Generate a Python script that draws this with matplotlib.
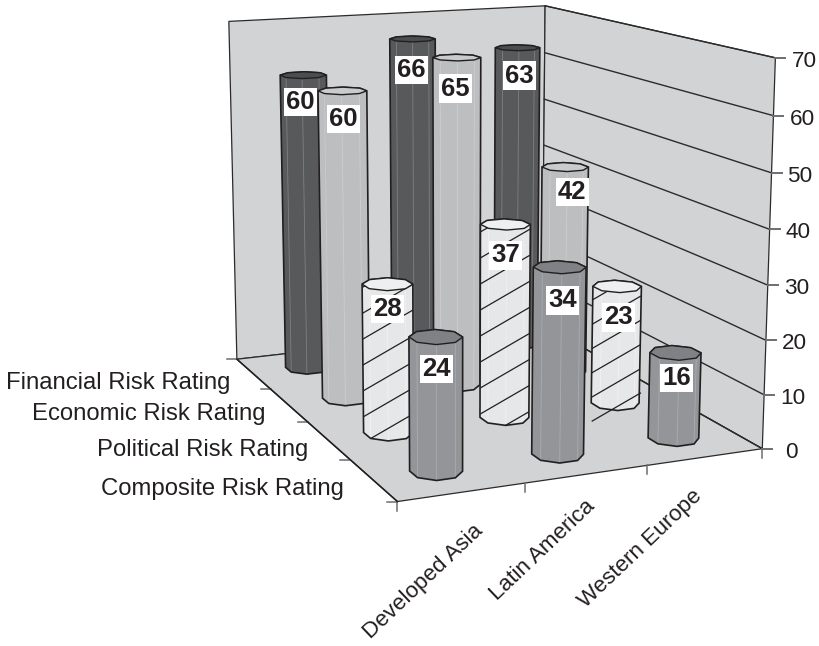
import numpy as np
import matplotlib
matplotlib.use("Agg")
import matplotlib.pyplot as plt
from matplotlib.patches import Polygon

plt.rcParams["font.family"] = ["Liberation Sans", "DejaVu Sans"]

# ---- data -------------------------------------------------------------
regions = ["Developed Asia", "Latin America", "Western Europe"]
ratings = ["Composite Risk Rating", "Political Risk Rating",
           "Economic Risk Rating", "Financial Risk Rating"]
composite = [24, 34, 16]
political = [28, 37, 23]
economic = [60, 65, 42]
financial = [60, 66, 63]
value_ticks = [0, 10, 20, 30, 40, 50, 60, 70]

# ---- styling ----------------------------------------------------------
INK = "#231f20"
WALL = "#d1d3d4"
side_colors = ["#939598", "#e6e7e8", "#bcbec0", "#58595b"]
top_colors = ["#7f8184", "#eeeff0", "#c9cbcd", "#4c4d4f"]
seam_colors = ["#a9abad", "#f2f2f3", "#cbcdcf", "#7c7e80"]

# ---- camera: world (region, rating depth, value) -> figure pixels ------
world_refs = [(0, 0, 0), (3, 0, 0), (0, 4, 0), (3, 4, 0),
              (3, 0, 70), (0, 4, 70), (3, 4, 70)]
pixel_refs = [(397, 501), (764, 449), (238, 360), (540, 324),
              (774, 58), (228, 21), (547, 6)]


def solve_camera(world, pixels):
    rows, rhs = [], []
    for (x, y, z), (u, v) in zip(world, pixels):
        rows.append([x, y, z, 1, 0, 0, 0, 0, -u * x, -u * y, -u * z])
        rows.append([0, 0, 0, 0, x, y, z, 1, -v * x, -v * y, -v * z])
        rhs += [u, v]
    sol = np.linalg.lstsq(np.array(rows, float), np.array(rhs, float), rcond=None)[0]
    return np.append(sol, 1.0).reshape(3, 4)


CAM = solve_camera(world_refs, pixel_refs)


def project(x, y, z):
    p = CAM @ np.array([x, y, z, 1.0])
    return p[0] / p[2], p[1] / p[2]


def quad(*pts):
    return [project(*p) for p in pts]


def convex_hull(points):
    pts = sorted(set(points))
    def half(seq):
        out = []
        for p in seq:
            while len(out) > 1 and ((out[-1][0] - out[-2][0]) * (p[1] - out[-2][1])
                                    - (out[-1][1] - out[-2][1]) * (p[0] - out[-2][0])) <= 0:
                out.pop()
            out.append(p)
        return out[:-1]
    return half(pts) + half(pts[::-1])


fig = plt.figure(figsize=(8.2, 6.46), dpi=100)
ax = fig.add_axes([0, 0, 1, 1])
ax.set_xlim(0, 820)
ax.set_ylim(646, 0)
ax.axis("off")

Z_MAX = value_ticks[-1]
# walls and floor
for pts in (
    [(0, 4, 0), (3, 4, 0), (3, 4, Z_MAX), (0, 4, Z_MAX)],
    [(3, 4, 0), (3, 0, 0), (3, 0, Z_MAX), (3, 4, Z_MAX)],
    [(0, 0, 0), (3, 0, 0), (3, 4, 0), (0, 4, 0)],
):
    ax.add_patch(Polygon(quad(*pts), closed=True, fc=WALL, ec="#2b2b2b", lw=0.9, zorder=1))
# heavier front-left floor edge
ax.plot(*zip(*quad((0, 0, 0), (0, 4, 0))), color=INK, lw=1.1, zorder=1.2)

# gridlines run along the right wall only
for v in value_ticks:
    ax.plot(*zip(*quad((3, 4, v), (3, 0, v))), color="#2b2b2b", lw=1.0, zorder=1.1)
    u0, v0 = project(3, 0, v)
    ax.plot([u0, u0 + 10], [v0, v0], color="#6d6e71", lw=1.4, zorder=1.1)
    ax.text(u0 + 16 if v else u0 + 23, v0 + 3.5, str(v), fontsize=16.2, color=INK,
            ha="left", va="center")

# ticks along the floor edges
for d in range(5):
    u0, v0 = project(0, d, 0)
    ax.plot([u0 - 10, u0], [v0, v0], color="#6d6e71", lw=1.1, zorder=1.1)
for c in range(4):
    u0, v0 = project(c, 0, 0)
    ax.plot([u0, u0], [v0, v0 + 9], color="#6d6e71", lw=1.1, zorder=1.1)

# axis category labels
rating_offsets = [(-29, 9), (-20, 9), (-23, 9), (-23, 9)]
for d, (name, off) in enumerate(zip(ratings, rating_offsets)):
    u0, v0 = project(0, d + 0.5, 0)
    ax.text(u0 + off[0], v0 + off[1], name, fontsize=17.2, color=INK, ha="right", va="center")
region_offsets = [(18, 36), (5, 29), (-6, 36)]
for c, (name, off) in enumerate(zip(regions, region_offsets)):
    u0, v0 = project(c + 0.5, 0, 0)
    ax.text(u0 + off[0], v0 + off[1], name, fontsize=16.1, color=INK, rotation=43.5,
            ha="right", va="center", rotation_mode="anchor")

# ---- columns ----------------------------------------------------------
RX, RY = 0.195, 0.21
SIDES = 8
angles = np.deg2rad(22.5 + 360 / SIDES * np.arange(SIDES))
HATCH_SLOPE = -0.58
hatch_phase = {0: (363, 313, 26), 1: (482, 283, 26), 2: (594, 299, 24.2)}
# the Western Europe hatching lets one stroke run past the column foot
hatch_overrun = {0: None, 1: None, 2: 5}
rows = [composite, political, economic, financial]
# data label placement relative to each column's top centre
label_drop = [[32, 33, 25], [25, 31, 31], [28, 31, 25], [27, 31, 28]]
label_shift = [[1, 3, 1], [0, 0, 1], [1, -1, 7], [-3, -1, 2]]


def draw_column(cx, cy, value, row, zo, hatch=None, overrun=None):
    base = [(cx + RX * np.cos(a), cy + RY * np.sin(a)) for a in angles]
    bottom = [project(bx, by, 0) for bx, by in base]
    top = [project(bx, by, value) for bx, by in base]
    hull = convex_hull(bottom + top)
    seams = []
    for k in range(SIDES):
        n = (k + 1) % SIDES
        face = [bottom[k], bottom[n], top[n], top[k]]
        area = 0.5 * sum(face[i][0] * face[(i + 1) % 4][1] - face[(i + 1) % 4][0] * face[i][1]
                         for i in range(4))
        if area < 0:
            ax.add_patch(Polygon(face, closed=True, fc=side_colors[row], ec=side_colors[row],
                                 lw=0.3, zorder=zo))
            seams.append((bottom[n], top[n]))
    for low, high in seams[:-1]:
        ax.plot([low[0], high[0]], [low[1], high[1]], color=seam_colors[row], lw=0.6, zorder=zo + 0.1)
    outline = Polygon(hull, closed=True, fc="none", ec=INK, lw=1.2, zorder=zo + 0.4)
    ax.add_patch(outline)
    if hatch is not None:
        x0, y0, step = hatch
        xs = np.array([min(p[0] for p in hull) + 1, max(p[0] for p in hull) - 1])
        for i in range(-2, 22):
            ys = y0 + i * step + HATCH_SLOPE * (xs - x0)
            line, = ax.plot(xs, ys, color=INK, lw=0.9, zorder=zo + 0.2)
            if i != overrun:
                line.set_clip_path(outline)
    ax.add_patch(Polygon(top, closed=True, fc=top_colors[row], ec=INK, lw=1.0, zorder=zo + 0.5))


zo = 2
for row in range(3, -1, -1):
    for c, value in enumerate(rows[row]):
        hatch = hatch_phase[c] if row == 1 else None
        draw_column(c + 0.5, row + 0.5, value, row, zo, hatch, hatch_overrun[c])
        zo += 1
        u0, v0 = project(c + 0.5, row + 0.5, value)
        ax.text(u0 + label_shift[row][c], v0 + label_drop[row][c], str(value), fontsize=18.5,
                fontweight="bold", color=INK, ha="center", va="center", zorder=50,
                bbox=dict(fc="white", ec="none", pad=1.6))

fig.savefig("out.png", dpi=100)
